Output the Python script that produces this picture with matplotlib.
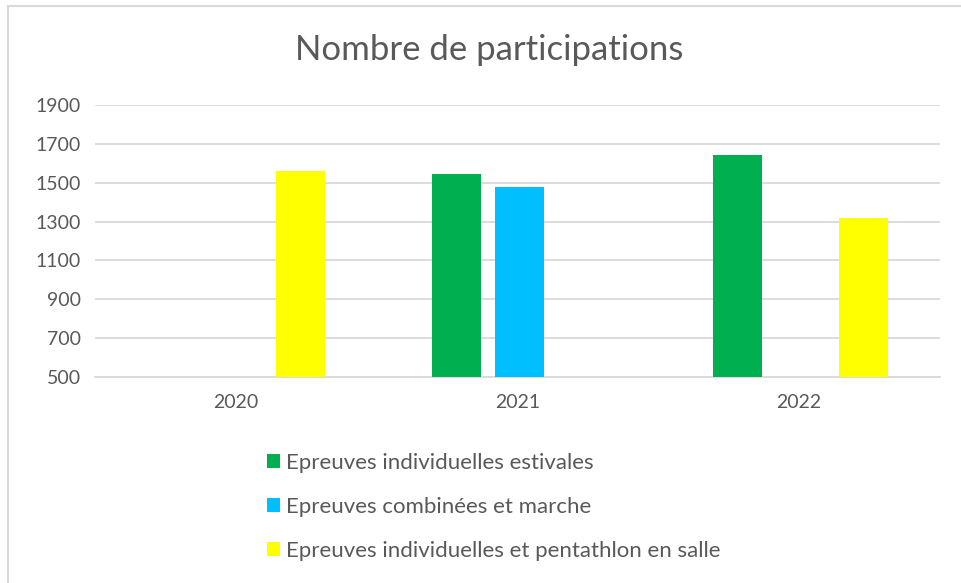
import numpy as np
import matplotlib
matplotlib.use("Agg")
import matplotlib.pyplot as plt
from matplotlib.lines import Line2D

plt.rcParams['font.family'] = ['Lato', 'DejaVu Sans']

# data
years = ["2020", "2021", "2022"]
estivales = [np.nan, 1546, 1645]
combinees = [np.nan, 1480, np.nan]
salle = [1561, np.nan, 1317]
series_names = ["Epreuves individuelles estivales",
                "Epreuves combinées et marche",
                "Epreuves individuelles et pentathlon en salle"]
colors = ["#00B050", "#00BFFF", "#FFFF00"]
yticks = [500, 700, 900, 1100, 1300, 1500, 1700, 1900]

text_col = "#595959"
grid_col = "#D9D9D9"

fig = plt.figure(figsize=(9.62, 5.83), dpi=100)
ax = fig.add_axes([0.0988, 0.3534, 0.8782, 0.4665])

x = np.arange(len(years))
offset = 0.224
width = 0.174
for i, (vals, name, col) in enumerate(zip([estivales, combinees, salle], series_names, colors)):
    ax.bar(x + (i - 1) * offset + 0.006, vals, width, color=col, label=name, zorder=3)

ax.set_xlim(-0.5, 2.5)
ax.set_ylim(500, 1900)
ax.set_yticks(yticks)
ax.set_xticks(x)
ax.set_xticklabels(years)
ax.tick_params(length=0, labelsize=14, colors=text_col)
ax.tick_params(axis='x', pad=12)
ax.tick_params(axis='y', pad=10)
ax.grid(axis='y', color=grid_col, linewidth=1.3, zorder=0)
for s in ['top', 'right', 'left']:
    ax.spines[s].set_visible(False)
ax.spines['bottom'].set_color(grid_col)
ax.spines['bottom'].set_linewidth(1.3)

fig.text(0.509, 0.915, "Nombre de participations", ha='center', va='center',
         fontsize=25, color=text_col)

leg = fig.legend(loc='upper left', bbox_to_anchor=(0.268, 0.238), frameon=False,
                 fontsize=16, handlelength=0.6, handleheight=0.6, handletextpad=0.25,
                 labelspacing=1.08, borderaxespad=0)
for t in leg.get_texts():
    t.set_color(text_col)

# chart area border (left and top only visible)
fig.add_artist(Line2D([0.008, 0.008], [0, 0.989], transform=fig.transFigure,
                      color=grid_col, linewidth=1.5))
fig.add_artist(Line2D([0.008, 1.0], [0.989, 0.989], transform=fig.transFigure,
                      color=grid_col, linewidth=1.5))

fig.savefig("out.png", dpi=100)
